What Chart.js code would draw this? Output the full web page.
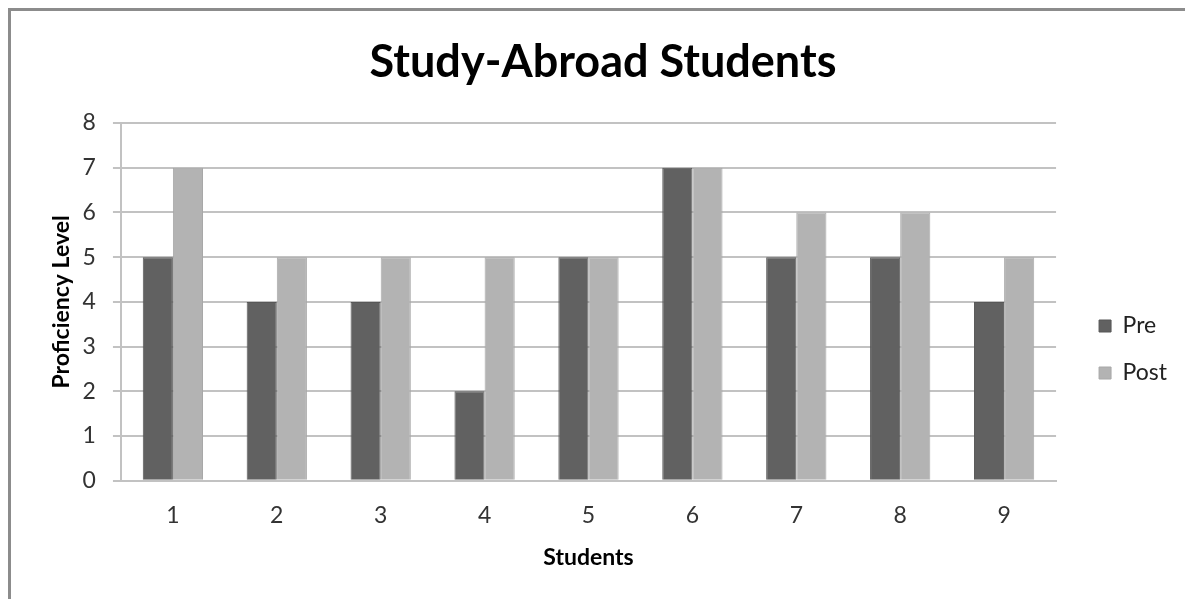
<!DOCTYPE html>
<html lang="en">
<head>
    <meta charset="UTF-8">
    <title>Study-Abroad Students</title>
    <script src="https://cdn.jsdelivr.net/npm/chart.js@4.4.0/dist/chart.umd.min.js"></script>
    <style>
        body { margin: 0; background: #fff; overflow: hidden; }
        #frame { position: absolute; left: 8px; top: 8px; width: 1200px; height: 620px; border-left: 3px solid #8c8c8c; border-top: 3px solid #8c8c8c; }
        #chart { position: absolute; left: 0; top: 0; }
    </style>
</head>
<body>
    <div id="frame"></div>
    <canvas id="chart" width="1185" height="599"></canvas>

    <script>
        const students = ['1', '2', '3', '4', '5', '6', '7', '8', '9'];
        const pre = [5, 4, 4, 2, 5, 7, 5, 5, 4];
        const post = [7, 5, 5, 5, 5, 7, 6, 6, 5];
        const yTicks = [0, 1, 2, 3, 4, 5, 6, 7, 8];

        const font = "Lato, 'Open Sans', sans-serif";
        const gridColor = '#c2c2c2';

        // nudge the legend: Excel puts it a bit right of and below the plot's middle
        const legendShift = {
            id: 'legendShift',
            afterUpdate(chart) {
                const lg = chart.legend;
                lg.left += 19; lg.right += 19;
                lg.top += 59; lg.bottom += 59;
            }
        };

        const ctx = document.getElementById('chart').getContext('2d');
        new Chart(ctx, {
            type: 'bar',
            data: {
                labels: students,
                datasets: [
                    { label: 'Pre', data: pre, backgroundColor: '#616161', borderColor: '#575757', borderWidth: 1 },
                    { label: 'Post', data: post, backgroundColor: '#b3b3b3', borderColor: '#a8a8a8', borderWidth: 1 }
                ]
            },
            options: {
                responsive: false,
                animation: false,
                categoryPercentage: 0.58,
                barPercentage: 1.0,
                layout: { padding: { left: 48, right: 27, top: 10, bottom: 28 } },
                plugins: {
                    title: {
                        display: true,
                        text: 'Study-Abroad Students',
                        color: '#000',
                        font: { family: font, size: 45, weight: 'bold' },
                        padding: { top: 25, bottom: 34 }
                    },
                    legend: {
                        position: 'right',
                        labels: {
                            color: '#222',
                            font: { family: font, size: 23 },
                            boxWidth: 12,
                            boxHeight: 12,
                            padding: 24
                        }
                    },
                    tooltip: { enabled: false }
                },
                scales: {
                    x: {
                        grid: { display: false, drawTicks: false },
                        border: { display: true, color: gridColor, width: 2 },
                        ticks: { color: '#333', font: { family: font, size: 23 }, padding: 21 },
                        title: {
                            display: true, text: 'Students', color: '#000',
                            font: { family: font, size: 23, weight: 'bold' },
                            padding: { top: -7, bottom: 0 }
                        }
                    },
                    y: {
                        min: 0,
                        max: 8,
                        afterBuildTicks: axis => { axis.ticks = yTicks.map(v => ({ value: v })); },
                        grid: { color: gridColor, lineWidth: 2, tickLength: 8 },
                        border: { display: true, color: gridColor, width: 2 },
                        ticks: { color: '#333', font: { family: font, size: 23 }, padding: 17 },
                        title: {
                            display: true, text: 'Proficiency Level', color: '#000',
                            font: { family: font, size: 23, weight: 'bold' },
                            padding: { top: 0, bottom: -10 }
                        }
                    }
                }
            },
            plugins: [legendShift]
        });
    </script>
</body>
</html>
